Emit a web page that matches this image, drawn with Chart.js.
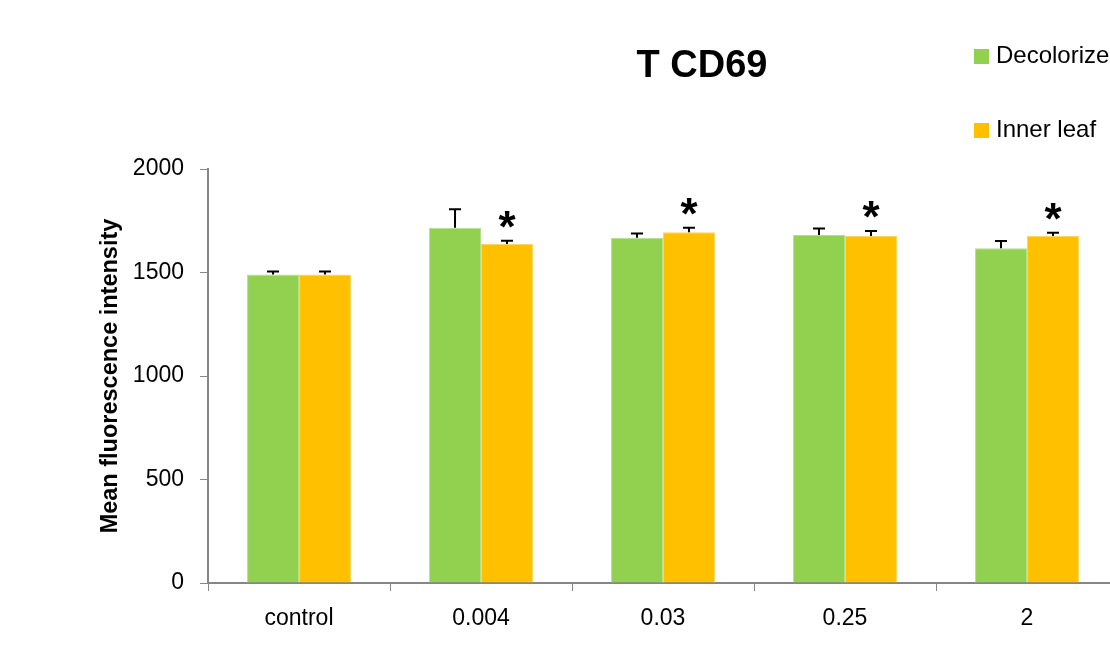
<!DOCTYPE html>
<html>
<head>
<meta charset="utf-8">
<title>T CD69</title>
<script src="https://cdn.jsdelivr.net/npm/chart.js@4/dist/chart.umd.min.js"></script>
<style>
  html, body { margin: 0; padding: 0; background: #fff; overflow: hidden; }
  canvas { display: block; }
</style>
</head>
<body>
<canvas id="cd69" width="1120" height="646"></canvas>
<script>
// T CD69 mean fluorescence, two extracts over concentrations
const doses = ['control', '0.004', '0.03', '0.25', '2'];
const decolorize = [1490, 1716, 1668, 1681, 1617];
const decolorizeErr = [15, 90, 20, 31, 35];
const innerLeaf = [1490, 1638, 1694, 1676, 1676];
const innerLeafErr = [15, 15, 22, 24, 16];
const innerLeafSig = [false, true, true, true, true];
const yTicks = [0, 500, 1000, 1500, 2000];

const FONT = '"Liberation Sans", Arial, sans-serif';
const GREEN = '#92D050';
const ORANGE = '#FFC000';
const AXIS = '#868686';

// up-only error whiskers plus significance stars
const errorBars = {
  id: 'errorBars',
  afterDatasetsDraw(chart) {
    const ctx = chart.ctx;
    const y = chart.scales.y;
    ctx.save();
    chart.data.datasets.forEach((ds, i) => {
      const meta = chart.getDatasetMeta(i);
      meta.data.forEach((bar, j) => {
        const top = y.getPixelForValue(ds.data[j] + ds.errors[j]);
        ctx.strokeStyle = '#000';
        ctx.lineWidth = 2;
        ctx.beginPath();
        ctx.moveTo(bar.x, bar.y);
        ctx.lineTo(bar.x, top);
        ctx.moveTo(bar.x - 6, top);
        ctx.lineTo(bar.x + 6, top);
        ctx.stroke();
        if (ds.stars && ds.stars[j]) {
          ctx.fillStyle = '#000';
          ctx.font = 'bold 44px ' + FONT;
          ctx.textAlign = 'center';
          ctx.textBaseline = 'middle';
          ctx.fillText('*', bar.x, top - 11);
        }
      });
    });
    ctx.restore();
  }
};

// title and the stacked legend in the top right corner
const decorations = {
  id: 'decorations',
  afterDraw(chart) {
    const ctx = chart.ctx;
    ctx.save();
    ctx.fillStyle = '#000';
    ctx.font = 'bold 38px ' + FONT;
    ctx.textAlign = 'center';
    ctx.textBaseline = 'middle';
    ctx.fillText('T CD69', 702, 67);

    const rows = [56, 130];
    chart.data.datasets.forEach((ds, i) => {
      ctx.fillStyle = ds.backgroundColor;
      ctx.fillRect(974, rows[i] - 7, 15, 15);
      ctx.fillStyle = '#000';
      ctx.font = '24px ' + FONT;
      ctx.textAlign = 'left';
      ctx.fillText(ds.label, 996, rows[i]);
    });
    ctx.restore();
  }
};

new Chart(document.getElementById('cd69'), {
  type: 'bar',
  data: {
    labels: doses,
    datasets: [
      {
        label: 'Decolorize',
        data: decolorize,
        errors: decolorizeErr,
        backgroundColor: GREEN,
        borderColor: '#b5e08a',
        borderWidth: 1
      },
      {
        label: 'Inner leaf',
        data: innerLeaf,
        errors: innerLeafErr,
        stars: innerLeafSig,
        backgroundColor: ORANGE,
        borderColor: '#ffd55c',
        borderWidth: 1
      }
    ]
  },
  options: {
    responsive: false,
    animation: false,
    devicePixelRatio: 1,
    datasets: {
      bar: { categoryPercentage: 0.571, barPercentage: 1 }
    },
    layout: { padding: { top: 169, right: 2, left: 0, bottom: 0 } },
    plugins: {
      legend: { display: false },
      tooltip: { enabled: false }
    },
    scales: {
      x: {
        grid: {
          offset: true,
          drawOnChartArea: false,
          drawTicks: true,
          tickLength: 8,
          color: AXIS
        },
        border: { color: AXIS, width: 2 },
        ticks: {
          color: '#000',
          font: { family: FONT, size: 23 },
          padding: 14
        },
        afterFit(scale) { scale.height = 63; }
      },
      y: {
        min: 0,
        max: 2000,
        afterBuildTicks(scale) {
          scale.ticks = yTicks.map(v => ({ value: v }));
        },
        grid: {
          drawOnChartArea: false,
          tickLength: 8,
          color: AXIS
        },
        border: { color: AXIS, width: 2 },
        ticks: {
          color: '#000',
          font: { family: FONT, size: 23 },
          padding: 16,
          callback: v => String(v)
        },
        title: {
          display: true,
          text: 'Mean fluorescence intensity',
          color: '#000',
          font: { family: FONT, size: 23.5, weight: 'bold' },
          padding: { top: 96, bottom: 0 }
        },
        afterFit(scale) { scale.width = 208; }
      }
    }
  },
  plugins: [errorBars, decorations]
});
</script>
</body>
</html>
